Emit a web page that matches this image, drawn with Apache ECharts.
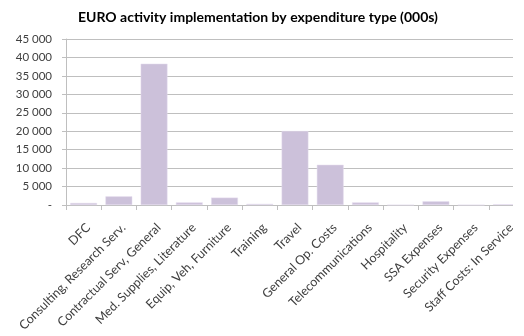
<!DOCTYPE html>
<html>
<head>
<meta charset="utf-8">
<script src="https://cdn.jsdelivr.net/npm/echarts@6/dist/echarts.min.js"></script>
<style>
  html, body { margin: 0; padding: 0; background: #ffffff; }
  #chart { width: 524px; height: 336px; }
</style>
</head>
<body>
<div id="chart"></div>
<script>
// Expenditure categories and implementation amounts (thousands)
const categories = [
  'DFC',
  'Consulting, Research Serv.',
  'Contractual Serv, General',
  'Med. Supplies, Literature',
  'Equip, Veh, Furniture',
  'Training',
  'Travel',
  'General Op. Costs',
  'Telecommunications',
  'Hospitality',
  'SSA Expenses',
  'Security Expenses',
  'Staff Costs: In Service'
];
const amounts = [550, 2350, 38300, 700, 2000, 300, 20050, 10900, 700, 0, 1000, 0, 200];

const yMax = 45000;
const yStep = 5000;

function fmtThousands(v) {
  if (v === 0) return '-';
  return String(v).replace(/\B(?=(\d{3})+(?!\d))/g, ' ');
}

const chart = echarts.init(document.getElementById('chart'), null, { renderer: 'canvas' });
chart.setOption({
  animation: false,
  backgroundColor: '#ffffff',
  textStyle: { fontFamily: 'Lato, "Open Sans", sans-serif' },
  title: {
    text: 'EURO activity implementation by expenditure type (000s)',
    left: 253, top: 5, textAlign: 'center',
    textStyle: { fontSize: 14, fontWeight: 'bold', color: '#000000', fontFamily: 'Lato, sans-serif' }
  },
  grid: { left: 66, right: -4, top: 39, bottom: 131, containLabel: false },
  xAxis: {
    type: 'category',
    data: categories,
    boundaryGap: true,
    axisLine: { show: true, lineStyle: { color: '#bfbfbf', width: 1 } },
    axisTick: { show: true, alignWithLabel: false, length: 5, lineStyle: { color: '#bfbfbf' } },
    axisLabel: {
      interval: 0, rotate: 45, margin: 16, verticalAlign: 'top',
      fontSize: 12.5, color: '#404040', fontFamily: 'Lato, sans-serif'
    }
  },
  yAxis: {
    type: 'value',
    min: 0, max: yMax, interval: yStep,
    axisLine: { show: true, lineStyle: { color: '#bfbfbf' } },
    axisTick: { show: true, length: 4, lineStyle: { color: '#bfbfbf' } },
    splitLine: { show: true, lineStyle: { color: '#bfbfbf', width: 1 } },
    axisLabel: {
      formatter: fmtThousands, margin: 14,
      fontSize: 11.5, color: '#404040', fontFamily: 'Lato, sans-serif'
    }
  },
  series: [{
    type: 'bar',
    data: amounts,
    barCategoryGap: '24%',
    itemStyle: { color: '#ccc1da', borderColor: '#e4dcee', borderWidth: 0.5 }
  }],
  graphic: [{
    type: 'rect',
    shape: { x: 513, y: 30, width: 20, height: 180 },
    style: { fill: '#ffffff' },
    z: 100
  }]
});
</script>
</body>
</html>
